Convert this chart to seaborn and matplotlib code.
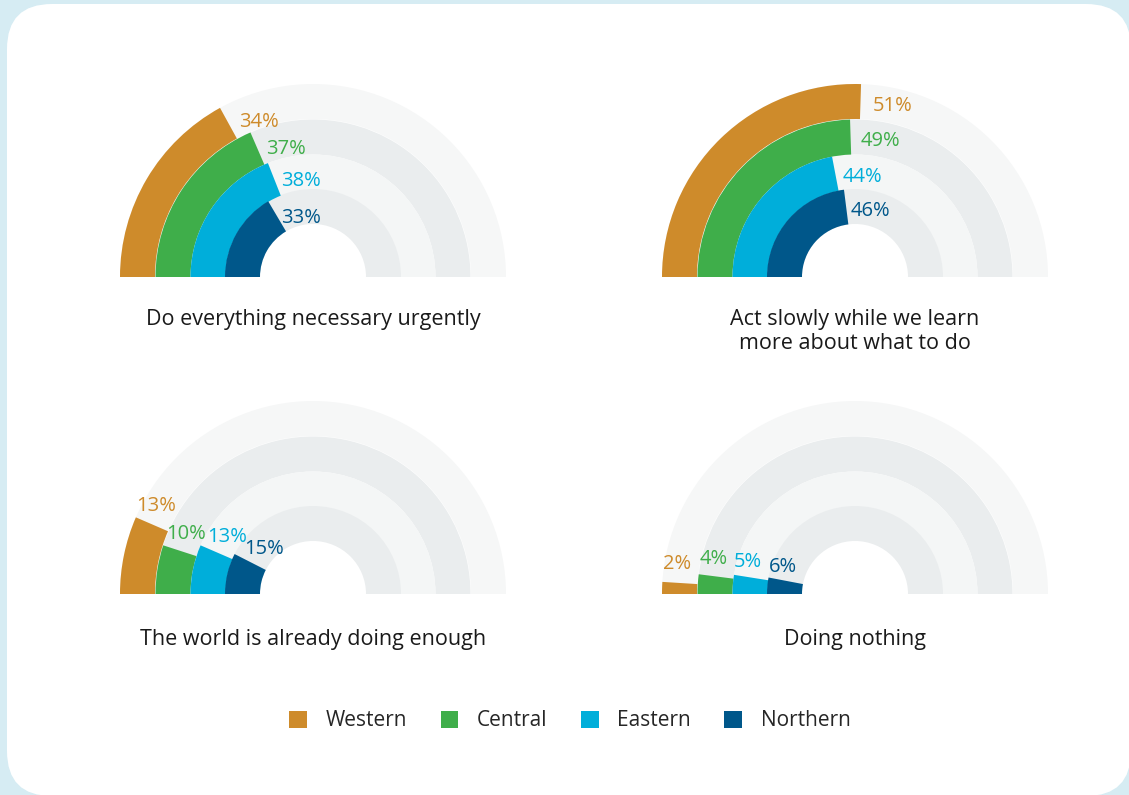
import matplotlib
matplotlib.use("Agg")
import numpy as np
import matplotlib.pyplot as plt
from matplotlib.patches import Wedge, FancyBboxPatch, Patch
import seaborn as sns

# data
regions = ["Western", "Central", "Eastern", "Northern"]
colors = ["#CE8B2B", "#3FAE4A", "#00AEDA", "#00578A"]
questions = ["Do everything necessary urgently",
             "Act slowly while we learn\nmore about what to do",
             "The world is already doing enough",
             "Doing nothing"]
urgently = [34, 37, 38, 33]
slowly = [51, 49, 44, 46]
enough = [13, 10, 13, 15]
nothing = [2, 4, 5, 6]
values = [urgently, slowly, enough, nothing]

sns.set_theme(style="white")
plt.rcParams["font.family"] = ["Open Sans", "DejaVu Sans"]

W, H = 1129, 795
fig = plt.figure(figsize=(W / 100, H / 100), dpi=100)
fig.patch.set_facecolor("#D6ECF3")
ax = fig.add_axes([0, 0, 1, 1])
ax.set_xlim(0, W)
ax.set_ylim(0, H)
ax.set_aspect("equal")
ax.axis("off")

# white card
card = FancyBboxPatch((7, -1), 1124, 792, boxstyle="round,pad=0,rounding_size=45",
                      fc="white", ec="none", zorder=0)
ax.add_patch(card)

centers = [(313, H - 277), (855, H - 277), (313, H - 594), (855, H - 594)]
title_y = [H - 309, H - 309, H - 629, H - 629]
r_outer = [193, 157.5, 122.5, 88]
ring_w = 35
track_colors = ["#F6F7F7", "#EAEDEE", "#F4F6F6", "#EAEDEE"]

for p, (cx, cy) in enumerate(centers):
    vals = values[p]
    for i in range(4):
        ax.add_patch(Wedge((cx, cy), r_outer[i], 0, 180, width=ring_w,
                           fc=track_colors[i], ec="none", zorder=1))
        end = 180 - vals[i] * 1.8
        ax.add_patch(Wedge((cx, cy), r_outer[i], end, 180, width=ring_w,
                           fc=colors[i], ec="none", zorder=2))
        rm = r_outer[i] - ring_w / 2
        if p < 2:
            a = np.deg2rad(end - 4)
            ax.text(cx + rm * np.cos(a), cy + rm * np.sin(a) - 4, f"{vals[i]}%",
                    ha="left", va="center", fontsize=14.5, color=colors[i], zorder=3)
        else:
            a = np.deg2rad(end - 3)
            dx = 4 * i if p == 2 else -4
            ax.text(cx + rm * np.cos(a) + dx, cy + rm * np.sin(a), f"{vals[i]}%",
                    ha="center", va="bottom", fontsize=14.5, color=colors[i], zorder=3)
    ax.text(cx, title_y[p], questions[p], ha="center", va="top", fontsize=15.5,
            color="#1A1A1A", linespacing=1.2, zorder=3)

handles = [Patch(fc=c, ec="none") for c in colors]
fig.legend(handles, regions, loc="center", bbox_to_anchor=(570 / W, 1 - 721 / H),
           ncol=4, frameon=False, fontsize=15, handlelength=0.85, handleheight=0.9,
           handletextpad=0.9, columnspacing=1.6)

fig.savefig("out.png", dpi=100, facecolor=fig.get_facecolor())
